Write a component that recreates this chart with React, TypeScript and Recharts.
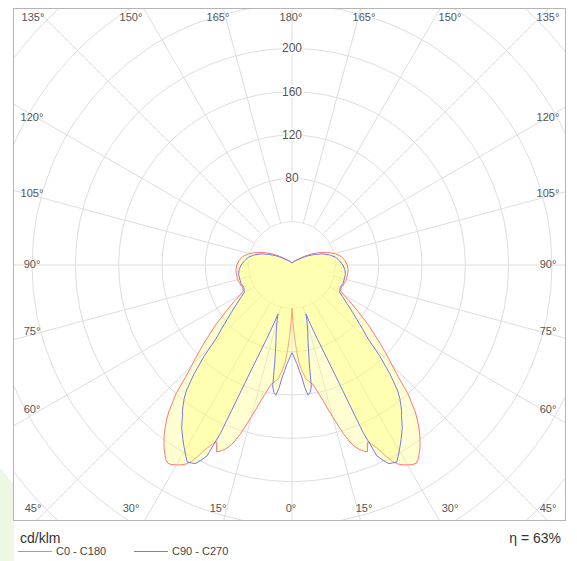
import React from 'react';
import { RadarChart, Radar, PolarGrid, PolarAngleAxis, PolarRadiusAxis } from 'recharts';

// gamma angles (degrees from nadir)
const GAMMA = [0,1,2,3,4,5,6,7,8,9,10,11,12,13,14,15,16,17,18,19,20,21,22,23,24,25,26,27,28,29,30,31,32,33,34,35,36,37,38,39,40,42,44,46,48,50,52,55,58,60,62,65,70,75,80,85,90,95,100,105,110,115,120,125,130,135,140,150,160,170,180];

// cd/klm, C0 plane (right) and C180 plane (left)
const C0 = [40,54,67,79,90,96,101,106,108,110,112,117,123,129,137,145,154,163,171,177,181,184,186,178,181,187,195,203,208,211,213,215,216,214,210,206,201,196,190,184,177,160,138,124,111,99,89,74,62,55,51,50,51,52,52,52,51,49,46,41,34,27,20,14,10,7,6,4,3,2,2];
const C180 = [40,54,67,79,90,96,101,106,108,110,112,117,123,129,137,145,154,163,171,177,181,184,186,178,181,187,195,203,208,211,213,215,216,214,210,206,201,196,190,184,177,160,138,124,111,99,89,74,62,55,51,50,51,52,52,52,51,49,46,41,34,27,20,14,10,7,6,4,3,2,2];
// C90 plane (right) and C270 plane (left)
const C90 = [81,84,88,92,98,104,114,121,119,114,92,80,71,65,59,53,47,55,63,73,84,100,125,168,193,199,204,205,206,202,198,194,190,186,182,177,172,168,163,158,152,135,116,97,87,78,71,62,55,51,50,49,50,50,50,49,47,44,41,36,30,23,17,12,8,6,5,4,3,2,2];
const C270 = [81,84,88,92,98,104,114,121,119,114,92,80,71,65,59,53,47,55,63,73,84,100,125,168,193,199,204,205,206,202,198,194,190,186,182,177,172,168,163,158,152,135,116,97,87,78,71,62,55,51,50,49,50,50,50,49,47,44,41,36,30,23,17,12,8,6,5,4,3,2,2];

const SPOKES = [0,15,30,45,60,75,90,105,120,135,150,165,180,195,210,225,240,255,270,285,300,315,330,345];
const RADIUS_MAX = 360;
const RADIUS_LABELS = [80,120,160,200];
const INNER_BLANK = 39.5;

const TOP_LABELS = ['135°','150°','165°','180°','165°','150°','135°'];
const BOTTOM_LABELS = ['45°','30°','15°','0°','15°','30°','45°'];
const SIDE_LABELS = ['120°','105°','90°','75°','60°'];

const TOP_X = [33,131,218,291,364,450,548];
const SIDE_Y = [117,193,264,331,409];

const RED = '#ff7777';
const BLUE = '#7777f2';

const data: any[] = [];
GAMMA.forEach((g, i) => {
  data.push({ theta: g, c0: C0[i], c90: C90[i], blank: INNER_BLANK });
});
for (let i = GAMMA.length - 2; i >= 1; i--) {
  data.push({ theta: 360 - GAMMA[i], c0: C180[i], c90: C270[i], blank: INNER_BLANK });
}

const FONT = '"Liberation Sans", Arial, sans-serif';

const labelStyle: React.CSSProperties = {
  position: 'absolute',
  fontFamily: FONT,
  fontSize: 11,
  color: '#555',
  transform: 'translate(-50%, -50%)',
  whiteSpace: 'nowrap',
  lineHeight: 1,
};

const RadiusTick = (props: any) => {
  const { x, y, payload } = props;
  if (!RADIUS_LABELS.includes(payload?.value)) return <g />;
  return (
    <text
      x={x}
      y={y}
      textAnchor="middle"
      dominantBaseline="central"
      fontFamily={FONT}
      fontSize={12}
      fill="#555"
      stroke="#fff"
      strokeWidth={3}
      paintOrder="stroke"
    >
      {payload.value}
    </text>
  );
};

export default function App() {
  return (
    <div style={{ position: 'absolute', left: 0, top: 0, width: 577, height: 561, background: '#fff', overflow: 'hidden' }}>
      <div
        style={{
          position: 'absolute',
          left: 0,
          top: 468,
          width: 14,
          height: 93,
          background: '#eef6e4',
          clipPath: 'polygon(0 0, 100% 18%, 100% 100%, 0 100%)',
        }}
      />
      <div
        style={{
          position: 'absolute',
          left: 13,
          top: 8,
          width: 553,
          height: 513,
          border: '1px solid #b4b4b4',
          boxSizing: 'border-box',
          overflow: 'hidden',
          background: '#fff',
        }}
      >
        <RadarChart
          width={551}
          height={511}
          data={data}
          cx={278}
          cy={256}
          outerRadius={390}
          startAngle={-90}
          endAngle={270}
          margin={{ top: 0, right: 0, bottom: 0, left: 0 }}
        >
          <PolarGrid gridType="circle" stroke="#dedede" strokeWidth={1} />
          <PolarAngleAxis
            dataKey="theta"
            type="number"
            domain={[0, 360]}
            ticks={SPOKES}
            tick={false}
            axisLine={false}
            tickLine={false}
          />
          <PolarRadiusAxis
            angle={90}
            domain={[0, RADIUS_MAX]}
            tickCount={10}
            axisLine={false}
            tickLine={false}
            tick={RadiusTick}
          />
          <Radar dataKey="blank" fill="#fff" fillOpacity={1} stroke="none" isAnimationActive={false} />
          <Radar dataKey="c0" name="C0 - C180" fill="#ffff66" fillOpacity={0.3} stroke={RED} strokeWidth={1} isAnimationActive={false} />
          <Radar dataKey="c90" name="C90 - C270" fill="#ffff66" fillOpacity={0.3} stroke={BLUE} strokeWidth={1} isAnimationActive={false} />
        </RadarChart>
      </div>
      {TOP_LABELS.map((t, i) => (
        <div key={'t' + i} style={{ ...labelStyle, left: TOP_X[i], top: 17 }}>{t}</div>
      ))}
      {BOTTOM_LABELS.map((t, i) => (
        <div key={'b' + i} style={{ ...labelStyle, left: TOP_X[i], top: 508 }}>{t}</div>
      ))}
      {SIDE_LABELS.map((t, i) => (
        <div key={'l' + i} style={{ ...labelStyle, left: 32, top: SIDE_Y[i] }}>{t}</div>
      ))}
      {SIDE_LABELS.map((t, i) => (
        <div key={'r' + i} style={{ ...labelStyle, left: 548, top: SIDE_Y[i] }}>{t}</div>
      ))}
      <div style={{ position: 'absolute', left: 20, top: 530, fontFamily: FONT, fontSize: 14, color: '#333', lineHeight: '16px' }}>cd/klm</div>
      <div style={{ position: 'absolute', right: 16, top: 530, fontFamily: FONT, fontSize: 14, color: '#333', lineHeight: '16px' }}>η = 63%</div>
      <svg style={{ position: 'absolute', left: 0, top: 545 }} width={240} height={14}>
        <line x1={18} y1={6.5} x2={52} y2={6.5} stroke={RED} strokeWidth={1.2} />
        <line x1={134} y1={6.5} x2={168} y2={6.5} stroke={BLUE} strokeWidth={1.2} />
      </svg>
      <div style={{ position: 'absolute', left: 56, top: 545, fontFamily: FONT, fontSize: 11, color: '#444', lineHeight: '12px' }}>C0 - C180</div>
      <div style={{ position: 'absolute', left: 172, top: 545, fontFamily: FONT, fontSize: 11, color: '#444', lineHeight: '12px' }}>C90 - C270</div>
    </div>
  );
}
